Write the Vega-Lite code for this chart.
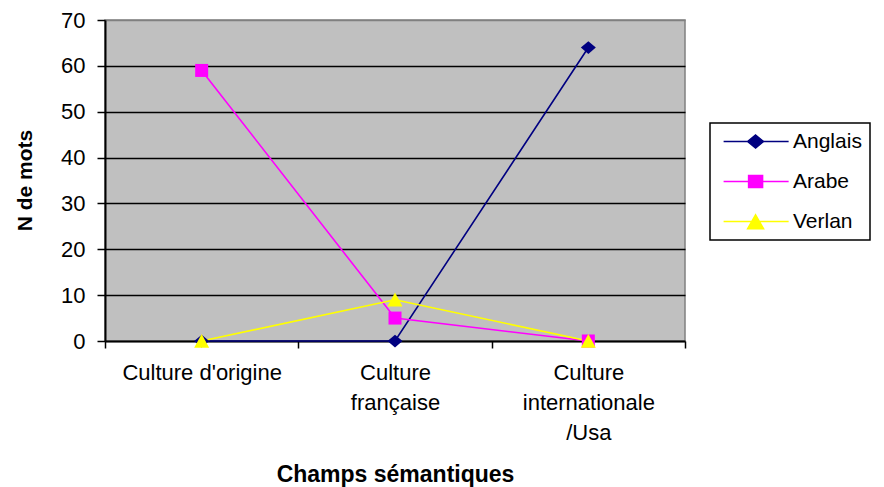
{
  "$schema": "https://vega.github.io/schema/vega-lite/v6.json",
  "width": 580,
  "height": 321,
  "autosize": {"type": "none"},
  "padding": {"left": 105, "top": 20, "right": 199, "bottom": 146},
  "background": "white",
  "config": {
    "font": "Liberation Sans",
    "view": {"fill": "#C0C0C0", "stroke": "#808080", "strokeWidth": 1.5}
  },
  "data": {
    "values": [
      {"champ": "Culture d'origine", "langue": "Anglais", "n": 0},
      {"champ": "Culture française", "langue": "Anglais", "n": 0},
      {"champ": "Culture internationale /Usa", "langue": "Anglais", "n": 64},
      {"champ": "Culture d'origine", "langue": "Arabe", "n": 59},
      {"champ": "Culture française", "langue": "Arabe", "n": 5},
      {"champ": "Culture internationale /Usa", "langue": "Arabe", "n": 0},
      {"champ": "Culture d'origine", "langue": "Verlan", "n": 0},
      {"champ": "Culture française", "langue": "Verlan", "n": 9},
      {"champ": "Culture internationale /Usa", "langue": "Verlan", "n": 0}
    ]
  },
  "encoding": {
    "x": {
      "field": "champ",
      "type": "nominal",
      "sort": ["Culture d'origine", "Culture française", "Culture internationale /Usa"],
      "scale": {"type": "band", "paddingInner": 0, "paddingOuter": 0},
      "axis": {
        "title": "Champs sémantiques",
        "titleFont": "Liberation Sans",
        "titleFontSize": 23,
        "titleFontWeight": "bold",
        "titleColor": "black",
        "titleBaseline": "alphabetic",
        "titleY": 140,
        "labelAngle": 0,
        "labelFontSize": 22,
        "labelColor": "black",
        "labelLineHeight": 30,
        "labelPadding": 14,
        "labelBaseline": "top",
        "labelExpr": "datum.label == \"Culture d'origine\" ? datum.label : split(datum.label, ' ')",
        "tickBand": "extent",
        "tickSize": 7,
        "tickColor": "black",
        "tickWidth": 1.5,
        "domainColor": "black",
        "domainWidth": 2,
        "grid": false,
        "labelLimit": 300
      }
    },
    "y": {
      "field": "n",
      "type": "quantitative",
      "scale": {"domain": [0, 70], "nice": false},
      "axis": {
        "title": "N de mots",
        "titleFont": "Liberation Sans",
        "titleFontSize": 21,
        "titleFontWeight": "bold",
        "titleColor": "black",
        "titleBaseline": "alphabetic",
        "titleX": -74,
        "titleY": 160,
        "values": [0, 10, 20, 30, 40, 50, 60, 70],
        "labelFontSize": 22,
        "labelColor": "black",
        "labelPadding": 12,
        "tickSize": 8,
        "tickColor": "black",
        "tickWidth": 1.5,
        "domainColor": "black",
        "domainWidth": 2,
        "grid": true,
        "gridColor": {"condition": {"test": "datum.value === 70 || datum.value === 0", "value": "#808080"}, "value": "black"},
        "gridWidth": 1.5,
        "gridOpacity": 1
      }
    },
    "color": {
      "field": "langue",
      "type": "nominal",
      "scale": {"domain": ["Anglais", "Arabe", "Verlan"], "range": ["#000080", "#FF00FF", "#FFFF00"]},
      "legend": {
        "title": null,
        "orient": "none",
        "legendX": 605,
        "legendY": 103,
        "strokeColor": "black",
        "fillColor": "white",
        "padding": 8,
        "symbolSize": 196,
        "symbolStrokeWidth": 1.5,
        "labelFontSize": 21,
        "labelColor": "black",
        "labelOffset": 54,
        "rowPadding": 18,
        "encode": {
          "legend": {"update": {"strokeWidth": {"value": 1.5}}},
          "symbols": {
            "update": {
              "fill": {"signal": "scale('color', datum.value)"},
              "stroke": {"signal": "scale('color', datum.value)"}
            }
          }
        }
      }
    }
  },
  "layer": [
    {"mark": {"type": "line", "strokeWidth": 1.6}},
    {
      "transform": [{"filter": "datum.n < 0"}],
      "mark": {"type": "point", "filled": true, "opacity": 1},
      "encoding": {
        "shape": {
          "field": "langue",
          "type": "nominal",
          "scale": {
            "domain": ["Anglais", "Arabe", "Verlan"],
            "range": [
              "M-0.7,0H8.59M3.87,-0.93L5.01,0L3.87,0.93L2.73,0Z",
              "M-0.7,0H8.59M2.87,-0.86H4.87V0.86H2.87Z",
              "M-0.7,0H8.59M3.87,-0.95L5.01,1.05H2.73Z"
            ]
          },
          "legend": null
        }
      }
    },
    {
      "transform": [{"filter": "datum.langue === 'Anglais'"}],
      "mark": {"type": "point", "filled": true, "opacity": 1, "size": 225, "shape": "M0,-0.85L1,0L0,0.85L-1,0Z"}
    },
    {
      "transform": [{"filter": "datum.langue === 'Arabe'"}],
      "mark": {"type": "point", "filled": true, "opacity": 1, "size": 169, "shape": "square"}
    },
    {
      "transform": [{"filter": "datum.langue === 'Verlan'"}],
      "mark": {"type": "point", "filled": true, "opacity": 1, "size": 225, "shape": "M0,-0.95L1,0.9L-1,0.9Z"}
    }
  ]
}
